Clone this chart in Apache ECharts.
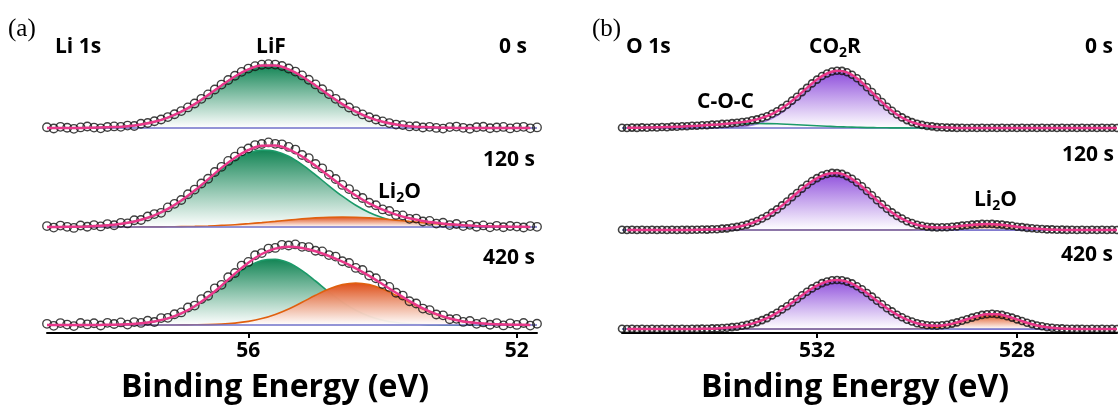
<!DOCTYPE html>
<html><head><meta charset="utf-8">
<script src="https://cdn.jsdelivr.net/npm/echarts@6.0.0/dist/echarts.min.js"></script>
<style>html,body{margin:0;padding:0;background:#fff}#c{width:1118px;height:409px}</style>
</head><body><div id="c"></div>
<script>
// ---------- Panel (a) Li 1s : energies ----------
const eA = [59.0,58.9,58.8,58.7,58.6,58.5,58.4,58.3,58.2,58.1,58.0,57.9,57.8,57.7,57.6,57.5,57.4,57.3,57.2,57.1,57.0,56.9,56.8,56.7,56.6,56.5,56.4,56.3,56.2,56.1,56.0,55.9,55.8,55.7,55.6,55.5,55.4,55.3,55.2,55.1,55.0,54.9,54.8,54.7,54.6,54.5,54.4,54.3,54.2,54.1,54.0,53.9,53.8,53.7,53.6,53.5,53.4,53.3,53.2,53.1,53.0,52.9,52.8,52.7,52.6,52.5,52.4,52.3,52.2,52.1,52.0,51.9,51.8,51.7];
const eAc = [59.0,58.8,58.6,58.4,58.2,58.0,57.8,57.6,57.4,57.2,57.0,56.8,56.6,56.4,56.2,56.0,55.8,55.6,55.4,55.2,55.0,54.8,54.6,54.4,54.2,54.0,53.8,53.6,53.4,53.2,53.0,52.8,52.6,52.4,52.2,52.0,51.8];
// measured Li 1s
const li0sData = [0.8,-0.5,1.2,0.3,-0.8,0.6,1.5,0.4,-0.3,1.0,1.6,1.2,2.4,2.0,4.3,5.0,6.8,8.5,10.9,13.8,16.9,20.6,24.5,29.2,33.6,38.5,43.4,48.0,52.3,56.2,59.4,61.8,63.3,63.8,63.4,62.0,59.5,56.4,52.6,48.3,43.6,38.8,33.9,29.2,24.8,20.5,16.9,13.6,10.8,8.5,6.6,4.9,3.4,2.9,1.6,1.8,0.5,1.2,0.1,-0.6,0.9,1.4,0.2,-0.7,0.8,1.3,-0.2,0.5,1.1,-0.4,0.7,1.2,-0.3,0.6];
const li120sData = [0.9,-0.6,1.4,0.2,-0.9,1.5,0.3,1.9,0.6,2.9,1.8,4.2,3.6,6.8,7.0,10.5,12.9,14.2,19.6,23.2,27.0,32.8,37.4,43.5,48.3,55.0,60.2,66.1,70.4,75.6,78.5,81.9,83.0,84.6,83.2,82.7,80.1,77.4,72.0,68.9,63.0,58.7,52.4,48.0,42.1,37.9,32.6,29.0,24.3,21.8,17.6,16.0,12.1,11.6,8.2,8.4,5.5,6.1,3.4,4.3,1.9,3.0,0.9,2.2,0.3,1.6,-0.3,1.2,-0.2,1.0,0.4,-0.5,0.9,0.2];
const li420sData = [1.2,-0.8,1.9,0.4,-1.1,2.0,0.6,1.8,-0.5,2.2,1.0,2.6,0.4,2.9,2.1,4.3,3.0,6.9,7.2,10.8,12.6,17.5,19.4,25.9,29.3,36.7,40.2,47.8,52.0,59.4,63.1,69.8,71.9,76.4,77.1,80.2,79.5,80.6,78.2,77.9,74.3,73.6,69.9,68.4,63.8,62.0,57.1,55.0,49.5,46.8,41.0,38.1,32.3,29.4,23.8,21.5,16.4,14.9,10.5,9.7,5.8,6.2,3.1,4.0,1.2,2.6,0.3,1.9,-0.4,1.7,0.1,2.0,-0.6,1.3];
// fitted components Li 1s
const lif0s   = [0,0,0,0.2,0.4,0.9,1.8,3.5,6.2,10.4,16.3,23.9,32.9,42.5,51.5,58.6,62.5,62.5,58.6,51.5,42.5,32.9,23.9,16.3,10.4,6.2,3.5,1.8,0.9,0.4,0.2,0,0,0,0,0,0];
const lif120s = [0,0.1,0.3,0.6,1.2,2.3,4.2,7.2,11.6,17.9,26.1,35.9,46.6,57.5,66.9,73.7,76.9,75.8,70.7,62.4,52.1,41.2,30.8,21.7,14.5,9.2,5.5,3.1,1.7,0.9,0.4,0.2,0.1,0,0,0,0];
const li2oA120s = [0,0,0,0,0,0,0,0.1,0.1,0.2,0.4,0.6,1.0,1.6,2.3,3.3,4.4,5.6,6.9,8.1,9.1,9.8,10,9.8,9.1,8.1,6.9,5.6,4.4,3.3,2.3,1.6,1.0,0.6,0.4,0.2,0.1];
const lif420s = [0,0,0,0,0.1,0.3,0.8,1.7,3.5,6.6,11.5,18.6,27.8,38.5,49.4,58.7,64.6,65.8,62.2,54.3,44.0,33.0,22.9,14.7,8.8,4.8,2.5,1.2,0.5,0.2,0.1,0,0,0,0,0,0];
const li2oA420s = [0,0,0,0,0,0,0,0,0,0,0.1,0.2,0.4,0.9,1.9,3.6,6.4,10.6,16.1,22.7,29.7,36.0,40.4,42,40.4,36.0,29.7,22.7,16.1,10.6,6.4,3.6,1.9,0.9,0.4,0.2,0.1];

// ---------- Panel (b) O 1s : energies ----------
const eB = [535.9,535.8,535.7,535.6,535.5,535.4,535.3,535.2,535.1,535.0,534.9,534.8,534.7,534.6,534.5,534.4,534.3,534.2,534.1,534.0,533.9,533.8,533.7,533.6,533.5,533.4,533.3,533.2,533.1,533.0,532.9,532.8,532.7,532.6,532.5,532.4,532.3,532.2,532.1,532.0,531.9,531.8,531.7,531.6,531.5,531.4,531.3,531.2,531.1,531.0,530.9,530.8,530.7,530.6,530.5,530.4,530.3,530.2,530.1,530.0,529.9,529.8,529.7,529.6,529.5,529.4,529.3,529.2,529.1,529.0,528.9,528.8,528.7,528.6,528.5,528.4,528.3,528.2,528.1,528.0,527.9,527.8,527.7,527.6,527.5,527.4,527.3,527.2,527.1,527.0,526.9,526.8,526.7,526.6,526.5,526.4,526.3,526.2,526.1,526.0];
const eBc = [535.8,535.6,535.4,535.2,535.0,534.8,534.6,534.4,534.2,534.0,533.8,533.6,533.4,533.2,533.0,532.8,532.6,532.4,532.2,532.0,531.8,531.6,531.4,531.2,531.0,530.8,530.6,530.4,530.2,530.0,529.8,529.6,529.4,529.2,529.0,528.8,528.6,528.4,528.2,528.0,527.8,527.6,527.4,527.2,527.0,526.8,526.6,526.4,526.2,526.0];
// measured O 1s
const o0sData = [0.3,0.0,0.4,0.1,0.6,0.3,0.8,0.5,1.0,0.8,1.4,1.2,1.7,1.7,2.2,2.2,2.8,2.8,3.4,3.5,4.1,4.2,4.9,5.2,6.0,6.5,7.7,8.6,10.3,11.8,14.2,16.7,19.9,23.2,27.4,31.3,35.9,40.1,44.6,48.4,52.0,54.5,56.5,57.2,57.1,55.7,53.3,49.7,45.7,40.7,36.0,30.8,26.0,21.3,17.3,13.5,10.6,7.9,5.9,4.2,3.1,2.0,1.6,0.9,0.8,0.4,0.4,0.1,0.3,0.0,0.2,0.0,0.2,0.0,0.2,0.0,0.2,0.0,0.2,0.0,0.2,0.0,0.2,0.0,0.2,0.0,0.2,0.0,0.2,0.0,0.2,0.0,0.2,0.0,0.2,0.0,0.2,0.0,0.2,0.0];
const o120sData = [0.2,0.0,0.2,0.0,0.2,0.0,0.2,0.0,0.2,0.0,0.2,0.0,0.2,0.1,0.3,0.2,0.5,0.4,0.8,0.8,1.4,1.6,2.5,3.1,4.3,5.4,7.2,9.0,11.5,14.0,17.4,20.6,24.6,28.5,32.9,37.0,41.4,45.2,49.0,51.9,54.5,56.0,57.1,56.9,56.1,53.9,51.3,47.5,43.7,39.0,34.7,29.8,25.6,21.2,17.6,14.1,11.5,8.8,7.0,5.2,4.3,3.3,2.9,2.5,2.7,2.7,3.3,3.6,4.4,4.7,5.4,5.6,6.1,6.0,6.1,5.6,5.4,4.6,4.2,3.3,2.9,2.1,1.8,1.2,1.0,0.6,0.6,0.2,0.4,0.1,0.3,0.0,0.2,0.0,0.2,0.0,0.2,0.0,0.2,0.0];
const o420sData = [0.2,0.0,0.2,0.0,0.2,0.0,0.2,0.0,0.2,0.0,0.2,0.0,0.2,0.0,0.2,0.1,0.4,0.3,0.6,0.6,1.0,1.2,1.9,2.3,3.3,4.1,5.5,6.9,8.9,10.9,13.6,16.2,19.6,22.7,26.5,30.0,33.8,37.2,40.6,43.3,45.9,47.5,48.8,49.0,48.8,47.4,45.6,42.7,39.8,36.0,32.4,28.3,24.7,20.8,17.6,14.3,11.7,9.3,7.5,5.8,4.7,3.8,3.5,3.3,3.8,4.3,5.4,6.6,8.2,9.7,11.4,12.7,14.1,14.7,15.2,14.7,14.1,12.7,11.4,9.6,8.0,6.2,4.9,3.5,2.7,1.7,1.3,0.7,0.6,0.3,0.3,0.1,0.2,0.0,0.2,0.0,0.2,0.0,0.2,0.0];
// fitted components O 1s
const co2r0s  = [0,0,0,0,0,0,0,0,0.1,0.2,0.4,1.0,2.1,4.1,7.4,12.5,19.4,28.0,37.3,46.1,52.7,55.9,54.7,49.0,40.3,30.5,21.1,13.4,7.8,4.2,2.0,0.9,0.4,0.1,0,0,0,0,0,0,0,0,0,0,0,0,0,0,0,0];
const coc0s   = [0.2,0.3,0.4,0.7,1.0,1.3,1.8,2.3,2.8,3.3,3.8,4.2,4.4,4.5,4.4,4.2,3.8,3.3,2.8,2.3,1.8,1.3,1.0,0.7,0.4,0.3,0.2,0.1,0.1,0,0,0,0,0,0,0,0,0,0,0,0,0,0,0,0,0,0,0,0,0];
const co2r120s = [0,0,0,0,0,0,0,0.2,0.4,0.8,1.6,3.1,5.4,9.0,14.0,20.6,28.5,37.0,45.2,51.9,56.0,56.9,53.9,47.5,39.0,29.8,21.2,14.1,8.7,5.0,2.7,1.3,0.6,0.3,0.1,0,0,0,0,0,0,0,0,0,0,0,0,0,0,0];
const li2oB120s = [0,0,0,0,0,0,0,0,0,0,0,0,0,0,0,0,0,0,0,0,0,0,0,0,0,0,0,0,0.1,0.2,0.6,1.2,2.1,3.3,4.6,5.6,6.0,5.6,4.6,3.3,2.1,1.2,0.6,0.2,0.1,0,0,0,0,0];
const co2r420s = [0,0,0,0,0,0,0,0.1,0.3,0.6,1.2,2.3,4.1,6.9,10.9,16.2,22.7,30.0,37.2,43.3,47.5,49.0,47.4,42.7,36.0,28.3,20.8,14.3,9.2,5.5,3.1,1.6,0.8,0.4,0.1,0,0,0,0,0,0,0,0,0,0,0,0,0,0,0];
const li2oB420s = [0,0,0,0,0,0,0,0,0,0,0,0,0,0,0,0,0,0,0,0,0,0,0,0,0,0,0,0,0.1,0.3,0.7,1.7,3.5,6.2,9.6,12.7,14.7,14.7,12.7,9.6,6.2,3.5,1.7,0.7,0.3,0.1,0,0,0,0];

// tick labels
const ticksA = [56, 52];
const ticksB = [532, 528];

// ---------- build ----------
const GREEN = {line:'#1c9a69', top:'#138555'};
const ORANGE = {line:'#e0600f', top:'#de4f18'};
const PURPLE = {line:'#a57ce0', top:'#8f4fdc'};

const panels = [
  {x: eA, xc: eAc, min: 51.7, max: 59.0, left: 47, width: 490, ymin: -8, ymax: 92, tops: [36, 135, 233], ticks: ticksA, sym: 8.5, bw: 1.35,
   spectra: [
     {meas: li0sData, comps: [[lif0s, GREEN]]},
     {meas: li120sData, comps: [[lif120s, GREEN], [li2oA120s, ORANGE]]},
     {meas: li420sData, comps: [[lif420s, GREEN], [li2oA420s, ORANGE]]}
   ]},
  {x: eB, xc: eBc, min: 526.0, max: 535.9, left: 622, width: 495, ymin: -4, ymax: 96, tops: [32, 134, 233], ticks: ticksB, sym: 7, bw: 1.6,
   spectra: [
     {meas: o0sData, comps: [[co2r0s, PURPLE], [coc0s, GREEN, true]]},
     {meas: o120sData, comps: [[co2r120s, PURPLE], [li2oB120s, ORANGE]]},
     {meas: o420sData, comps: [[co2r420s, PURPLE], [li2oB420s, ORANGE]]}
   ]}
];

const grids = [], xAxes = [], yAxes = [], series = [];
const pair = (xs, ys) => xs.map((x, i) => [x, ys[i]]);
const grad = (c) => new echarts.graphic.LinearGradient(0, 0, 0, 1, [{offset: 0, color: c.top}, {offset: 1, color: 'rgba(255,255,255,0.95)'}]);

panels.forEach((p) => {
  p.spectra.forEach((s, k) => {
    const gi = grids.length;
    const bottom = k === 2;
    grids.push({left: p.left, top: p.tops[k], width: p.width, height: 100});
    xAxes.push({
      type: 'value', gridIndex: gi, inverse: true, min: p.min, max: p.max, show: bottom,
      axisLine: {onZero: false, lineStyle: {color: '#000', width: 2}},
      axisTick: {show: true, customValues: p.ticks, length: 5, lineStyle: {color: '#000', width: 2}},
      axisLabel: {customValues: p.ticks, color: '#000', fontSize: 21, fontWeight: 'bold', fontFamily: 'Open Sans', margin: 8},
      splitLine: {show: false}
    });
    yAxes.push({type: 'value', gridIndex: gi, min: p.ymin, max: p.ymax, show: false});
    s.comps.forEach((c, j) => {
      const noFill = c[2];
      series.push({
        type: 'line', xAxisIndex: gi, yAxisIndex: gi, data: pair(p.xc, c[0]), smooth: 0.35,
        showSymbol: false, silent: true, z: noFill ? 3 : 1 + j * 0.1,
        lineStyle: {color: c[1].line, width: 1.6},
        areaStyle: noFill ? null : {color: grad(c[1]), opacity: 1}
      });
    });
    series.push({
      type: 'line', xAxisIndex: gi, yAxisIndex: gi, showSymbol: false, silent: true, z: 2,
      data: [[p.x[0], 0], [p.x[p.x.length - 1], 0]], lineStyle: {color: '#6f70c9', width: 1.5}
    });
    series.push({
      type: 'scatter', xAxisIndex: gi, yAxisIndex: gi, data: pair(p.x, s.meas), symbol: 'circle', symbolSize: p.sym,
      silent: true, z: 4, itemStyle: {color: 'rgba(255,255,255,0)', borderColor: '#111', borderWidth: p.bw}
    });
    const env = p.xc.map((x, i) => s.comps.reduce((a, c) => a + c[0][i], 0));
    series.push({
      type: 'line', xAxisIndex: gi, yAxisIndex: gi, data: pair(p.xc, env), smooth: 0.35, showSymbol: false,
      silent: true, z: 5, lineStyle: {color: '#e8388a', width: 2.5}
    });
  });
});

const F = '"Open Sans", sans-serif';
const lab = (text, x, y, align, size) => ({type: 'text', x, y, silent: true, z: 100,
  style: {text, fill: '#000', font: 'bold ' + (size || 21) + 'px ' + F, textAlign: align || 'left', textVerticalAlign: 'middle', verticalAlign: 'middle'}});
const sub = (a, b, c, x, y, align) => ({type: 'text', x, y, silent: true, z: 100,
  style: {text: '{n|' + a + '}{s|' + b + '}{n|' + c + '}', textAlign: align || 'left', textVerticalAlign: 'middle', verticalAlign: 'middle',
    rich: {n: {fill: '#000', font: 'bold 21px ' + F, height: 28, verticalAlign: 'middle'},
           s: {fill: '#000', font: 'bold 14px ' + F, height: 28, padding: [12, 0, 0, 0], verticalAlign: 'middle'}}}});

const graphic = [
  {type: 'text', x: 8, y: 29, style: {text: '(a)', fill: '#000', font: '25px "Liberation Serif", serif', textVerticalAlign: 'middle', verticalAlign: 'middle'}},
  {type: 'text', x: 592, y: 29, style: {text: '(b)', fill: '#000', font: '25px "Liberation Serif", serif', textVerticalAlign: 'middle', verticalAlign: 'middle'}},
  lab('Li 1s', 55, 47), lab('LiF', 271, 47, 'center'), lab('0 s', 527, 47, 'right'),
  lab('120 s', 535, 160, 'right'), sub('Li', '2', 'O', 378, 192), lab('420 s', 535, 258, 'right'),
  lab('O 1s', 626, 47), sub('CO', '2', 'R', 835, 47, 'center'), lab('0 s', 1113, 47, 'right'),
  lab('C-O-C', 697, 102), lab('120 s', 1114, 155, 'right'), sub('Li', '2', 'O', 974, 200), lab('420 s', 1113, 255, 'right'),
  lab('Binding Energy (eV)', 275, 388, 'center', 32), lab('Binding Energy (eV)', 855, 388, 'center', 32)
];

const chart = echarts.init(document.getElementById('c'), null, {renderer: 'canvas'});
chart.setOption({animation: false, backgroundColor: '#fff', grid: grids, xAxis: xAxes, yAxis: yAxes, series, graphic});
</script>
</body></html>
